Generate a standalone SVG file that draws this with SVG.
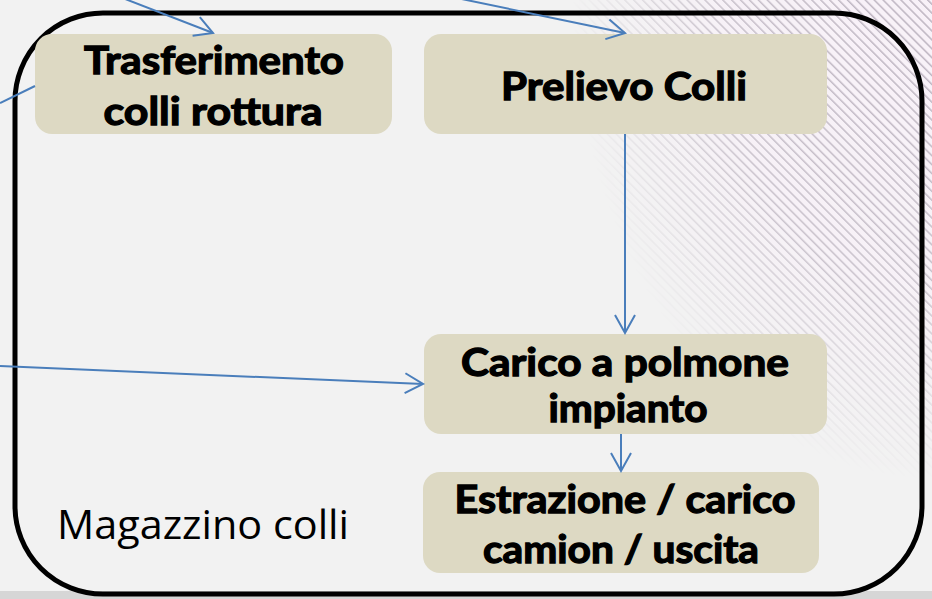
<svg xmlns="http://www.w3.org/2000/svg" width="932" height="599" viewBox="0 0 932 599">
<style>
.node rect{fill:#ddd9c3}
.node text{font-family:Lato,"DejaVu Sans",sans-serif;font-weight:bold;font-size:39px;fill:#000;stroke:#000;stroke-width:1.3px;text-anchor:middle}
.conn line{stroke:#4a7ebb;stroke-width:2;fill:none}
</style>
<defs>
<marker id="ah" markerUnits="userSpaceOnUse" markerWidth="24" markerHeight="24" viewBox="-20 -12 24 24" refX="0" refY="0" orient="auto">
<path d="M-18,-10 L0,0 L-18,10" fill="none" stroke="#4a7ebb" stroke-width="2"/>
</marker>
<pattern id="hatch" width="6.3" height="6.3" patternUnits="userSpaceOnUse" patternTransform="rotate(-45)">
<rect width="6.3" height="6.3" fill="#f8f1f8"/>
<rect x="0" y="0" width="1.5" height="6.3" fill="#bbb2bf"/>
</pattern>
<radialGradient id="fade" gradientUnits="userSpaceOnUse" cx="932" cy="0" r="480" gradientTransform="translate(932 0) scale(0.75 1) translate(-932 0)">
<stop offset="0" stop-color="#fff" stop-opacity="1"/>
<stop offset="0.6" stop-color="#fff" stop-opacity="0.75"/>
<stop offset="1" stop-color="#fff" stop-opacity="0"/>
</radialGradient>
<mask id="m"><rect width="932" height="599" fill="url(#fade)"/></mask>
</defs>
<rect width="932" height="599" fill="#f2f2f2"/>
<rect width="932" height="599" fill="url(#hatch)" mask="url(#m)"/>
<rect x="0" y="591" width="932" height="8" fill="#d6d6d6"/>
<rect x="15" y="13" width="907" height="581" rx="88" ry="88" fill="none" stroke="#000" stroke-width="5"/>
<text x="57" y="539" font-family="'Open Sans','Noto Sans',sans-serif" font-size="40" textLength="292" lengthAdjust="spacingAndGlyphs" fill="#000">Magazzino colli</text>
<g id="n1" class="node"><rect x="35" y="34" width="357" height="100" rx="17"/><text x="214" y="74" textLength="260" lengthAdjust="spacingAndGlyphs">Trasferimento</text><text x="213" y="125" textLength="219" lengthAdjust="spacingAndGlyphs">colli rottura</text></g>
<g id="n2" class="node"><rect x="424" y="34" width="403" height="100" rx="17"/><text x="624" y="100" textLength="246" lengthAdjust="spacingAndGlyphs">Prelievo Colli</text></g>
<g id="n3" class="node"><rect x="424" y="334" width="403" height="100" rx="17"/><text x="625" y="376" textLength="328" lengthAdjust="spacingAndGlyphs">Carico a polmone</text><text x="628" y="422" textLength="159" lengthAdjust="spacingAndGlyphs">impianto</text></g>
<g id="n4" class="node"><rect x="423" y="472" width="396" height="101" rx="17"/><text x="625" y="513" textLength="341" lengthAdjust="spacingAndGlyphs">Estrazione / carico</text><text x="621" y="563" textLength="276" lengthAdjust="spacingAndGlyphs">camion / uscita</text></g>
<g id="connectors" class="conn">
<line x1="120" y1="-3" x2="213" y2="33" marker-end="url(#ah)"/>
<line x1="452" y1="-3" x2="625" y2="33" marker-end="url(#ah)"/>
<line x1="0" y1="103" x2="35" y2="86"/>
<line x1="0" y1="366" x2="423" y2="384" marker-end="url(#ah)"/>
<line x1="625" y1="134" x2="625" y2="333" marker-end="url(#ah)"/>
<line x1="621" y1="434" x2="621" y2="471" marker-end="url(#ah)"/>
</g>
</svg>
